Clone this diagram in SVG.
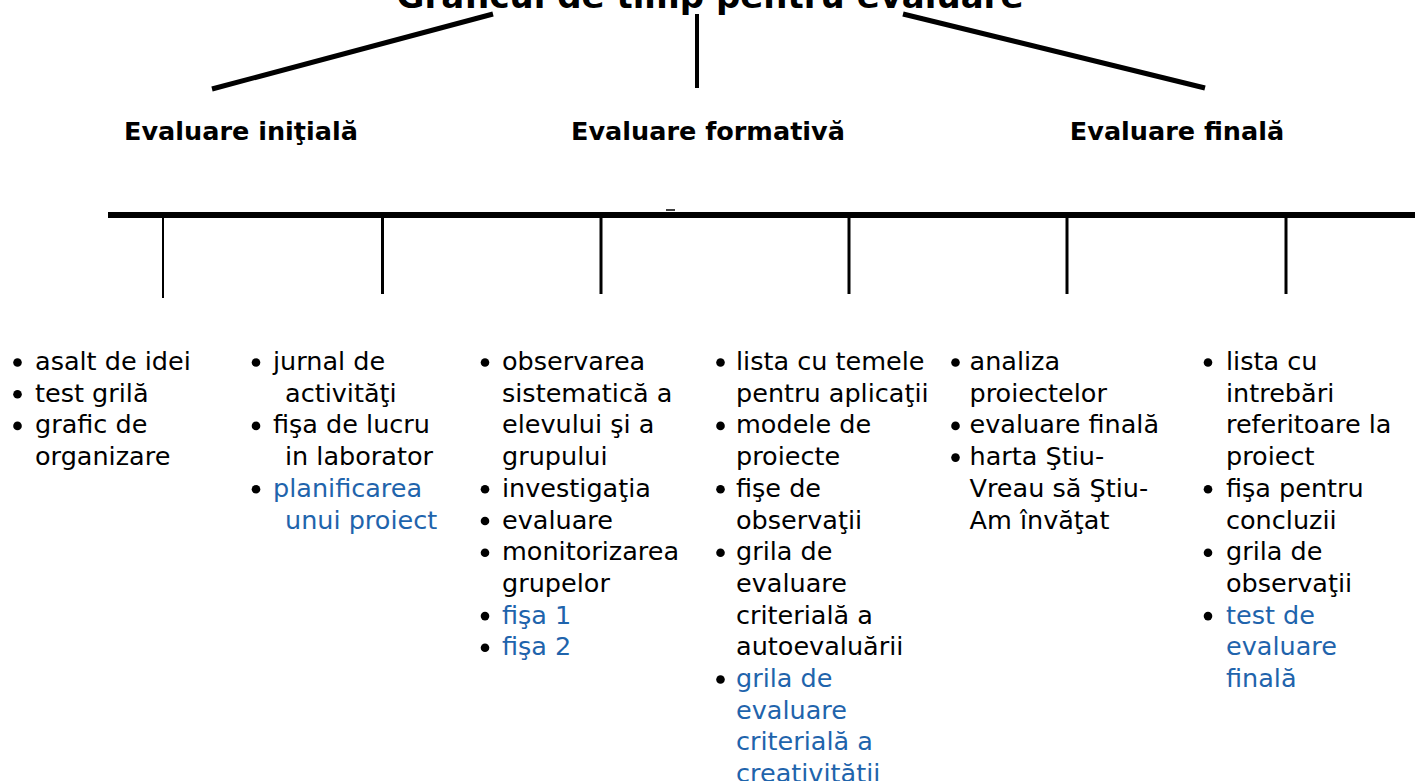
<svg xmlns="http://www.w3.org/2000/svg" width="1415" height="781" viewBox="0 0 1415 781">
<style>
  .title { font-family: "DejaVu Sans", Verdana, sans-serif; font-weight: bold; font-size: 34px; fill: #000; }
  .head { font-family: "DejaVu Sans", Verdana, sans-serif; font-weight: bold; font-size: 25.5px; fill: #000; }
  .item { font-family: "DejaVu Sans", Verdana, sans-serif; font-size: 25.5px; fill: #000; }
  .link { fill: #1f64ac; }
  .bul { fill: #000; }
  .conn { stroke: #000; fill: none; stroke-linecap: butt; }
</style>
<rect width="1415" height="781" fill="#fff"/>

<g id="title">
  <text class="title" x="710" y="8" text-anchor="middle">Graficul de timp pentru evaluare</text>
</g>

<g id="connectors">
  <line class="conn" x1="212" y1="89" x2="493" y2="14" stroke-width="5"/>
  <line class="conn" x1="697" y1="14" x2="697" y2="88" stroke-width="4"/>
  <line class="conn" x1="903" y1="14" x2="1205" y2="88" stroke-width="5"/>
  <line class="conn" x1="108" y1="215" x2="1415" y2="215" stroke-width="6"/>
  <line class="conn" x1="666" y1="210" x2="675" y2="210" stroke-width="1.5" stroke="#888"/>
  <line class="conn" x1="163" y1="216" x2="163" y2="298" stroke-width="2"/>
  <line class="conn" x1="382.5" y1="216" x2="382.5" y2="294" stroke-width="3"/>
  <line class="conn" x1="601" y1="216" x2="601" y2="294" stroke-width="3"/>
  <line class="conn" x1="849" y1="216" x2="849" y2="294" stroke-width="3"/>
  <line class="conn" x1="1067" y1="216" x2="1067" y2="294" stroke-width="3"/>
  <line class="conn" x1="1286" y1="216" x2="1286" y2="294" stroke-width="3"/>
</g>

<g id="head-initiala">
  <text class="head" x="241" y="140" text-anchor="middle">Evaluare iniţială</text>
</g>
<g id="head-formativa">
  <text class="head" x="708" y="140" text-anchor="middle">Evaluare formativă</text>
</g>
<g id="head-finala">
  <text class="head" x="1177" y="140" text-anchor="middle">Evaluare finală</text>
</g>

<g id="list1">
  <circle class="bul" cx="17.5" cy="362.5" r="4.3"/>
  <circle class="bul" cx="17.5" cy="394.2" r="4.3"/>
  <circle class="bul" cx="17.5" cy="425.9" r="4.3"/>
  <text class="item" x="35" y="370">asalt de idei</text>
  <text class="item" x="35" y="401.7">test grilă</text>
  <text class="item" x="35" y="433.4">grafic de</text>
  <text class="item" x="35" y="465.1">organizare</text>
</g>

<g id="list2">
  <circle class="bul" cx="256" cy="362.5" r="4.3"/>
  <circle class="bul" cx="256" cy="425.9" r="4.3"/>
  <circle class="bul" cx="256" cy="489.3" r="4.3"/>
  <text class="item" x="273" y="370">jurnal de</text>
  <text class="item" x="285" y="401.7">activităţi</text>
  <text class="item" x="273" y="433.4">fişa de lucru</text>
  <text class="item" x="285" y="465.1">in laborator</text>
  <text class="item link" x="273" y="496.8">planificarea</text>
  <text class="item link" x="285" y="528.5">unui proiect</text>
</g>

<g id="list3">
  <circle class="bul" cx="485" cy="362.5" r="4.3"/>
  <circle class="bul" cx="485" cy="489.3" r="4.3"/>
  <circle class="bul" cx="485" cy="521" r="4.3"/>
  <circle class="bul" cx="485" cy="552.7" r="4.3"/>
  <circle class="bul" cx="485" cy="616.1" r="4.3"/>
  <circle class="bul" cx="485" cy="647.8" r="4.3"/>
  <text class="item" x="502" y="370">observarea</text>
  <text class="item" x="502" y="401.7">sistematică a</text>
  <text class="item" x="502" y="433.4">elevului şi a</text>
  <text class="item" x="502" y="465.1">grupului</text>
  <text class="item" x="502" y="496.8">investigaţia</text>
  <text class="item" x="502" y="528.5">evaluare</text>
  <text class="item" x="502" y="560.2">monitorizarea</text>
  <text class="item" x="502" y="591.9">grupelor</text>
  <text class="item link" x="502" y="623.6">fişa 1</text>
  <text class="item link" x="502" y="655.3">fişa 2</text>
</g>

<g id="list4">
  <circle class="bul" cx="720.5" cy="362.5" r="4.3"/>
  <circle class="bul" cx="720.5" cy="425.9" r="4.3"/>
  <circle class="bul" cx="720.5" cy="489.3" r="4.3"/>
  <circle class="bul" cx="720.5" cy="552.7" r="4.3"/>
  <circle class="bul" cx="720.5" cy="679.5" r="4.3"/>
  <text class="item" x="736" y="370">lista cu temele</text>
  <text class="item" x="736" y="401.7">pentru aplicaţii</text>
  <text class="item" x="736" y="433.4">modele de</text>
  <text class="item" x="736" y="465.1">proiecte</text>
  <text class="item" x="736" y="496.8">fişe de</text>
  <text class="item" x="736" y="528.5">observaţii</text>
  <text class="item" x="736" y="560.2">grila de</text>
  <text class="item" x="736" y="591.9">evaluare</text>
  <text class="item" x="736" y="623.6">criterială a</text>
  <text class="item" x="736" y="655.3">autoevaluării</text>
  <text class="item link" x="736" y="687">grila de</text>
  <text class="item link" x="736" y="718.7">evaluare</text>
  <text class="item link" x="736" y="750.4">criterială a</text>
  <text class="item link" x="736" y="782.1">creativităţii</text>
</g>

<g id="list5">
  <circle class="bul" cx="955.5" cy="362.5" r="4.3"/>
  <circle class="bul" cx="955.5" cy="425.9" r="4.3"/>
  <circle class="bul" cx="955.5" cy="457.6" r="4.3"/>
  <text class="item" x="969.5" y="370">analiza</text>
  <text class="item" x="969.5" y="401.7">proiectelor</text>
  <text class="item" x="969.5" y="433.4">evaluare finală</text>
  <text class="item" x="969.5" y="465.1">harta Ştiu-</text>
  <text class="item" x="969.5" y="496.8">Vreau să Ştiu-</text>
  <text class="item" x="969.5" y="528.5">Am învăţat</text>
</g>

<g id="list6">
  <circle class="bul" cx="1208" cy="362.5" r="4.3"/>
  <circle class="bul" cx="1208" cy="489.3" r="4.3"/>
  <circle class="bul" cx="1208" cy="552.7" r="4.3"/>
  <circle class="bul" cx="1208" cy="616.1" r="4.3"/>
  <text class="item" x="1226" y="370">lista cu</text>
  <text class="item" x="1226" y="401.7">intrebări</text>
  <text class="item" x="1226" y="433.4">referitoare la</text>
  <text class="item" x="1226" y="465.1">proiect</text>
  <text class="item" x="1226" y="496.8">fişa pentru</text>
  <text class="item" x="1226" y="528.5">concluzii</text>
  <text class="item" x="1226" y="560.2">grila de</text>
  <text class="item" x="1226" y="591.9">observaţii</text>
  <text class="item link" x="1226" y="623.6">test de</text>
  <text class="item link" x="1226" y="655.3">evaluare</text>
  <text class="item link" x="1226" y="687">finală</text>
</g>
</svg>
